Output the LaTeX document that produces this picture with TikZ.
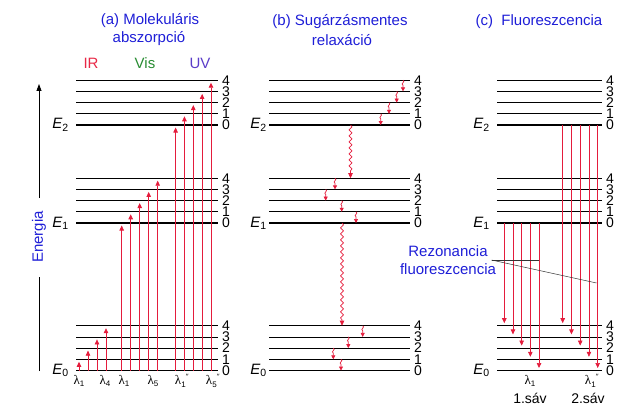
\documentclass[tikz,border=0pt]{standalone}
\usepackage{fontspec}
\setmainfont{Liberation Sans}
\newfontfamily\grk{Liberation Serif}
\usetikzlibrary{arrows.meta,decorations.pathmorphing}
\definecolor{arr}{RGB}{228,28,60}
\definecolor{ttl}{RGB}{30,30,215}
\definecolor{irc}{RGB}{232,40,70}
\definecolor{visc}{RGB}{40,140,50}
\definecolor{uvc}{RGB}{90,60,200}
\newcommand\lamlab[2]{{\grk λ}\raisebox{-2.5pt}{\fontsize{8}{8}\selectfont #1}#2}
\newcommand\dpr{\raisebox{5pt}{\fontsize{8}{8}\selectfont\grk ″}}
\begin{document}
\begin{tikzpicture}[x=1pt,y=-1pt,
  lev/.style={draw=black},
  num/.style={anchor=west,inner sep=0pt,font=\fontsize{14}{14}\selectfont},
  elab/.style={anchor=east,inner sep=0pt,font=\fontsize{15}{15}\selectfont},
  ttlf/.style={font=\fontsize{15}{17.5}\selectfont,text=ttl,inner sep=0pt},
  up/.style={draw=arr,line width=0.7pt,-{Triangle[length=5pt,width=4.5pt]},shorten >=2.5pt},
  dn/.style={draw=arr,line width=0.7pt,-{Triangle[length=5pt,width=4.5pt]},shorten >=2.5pt},
  lw/.style={draw=arr,line width=0.7pt,-{Triangle[length=5pt,width=4.5pt]},decorate,decoration={snake,amplitude=1.5pt,segment length=6pt,post length=5pt}},
  sw/.style={draw=arr,line width=0.7pt,-{Triangle[length=4pt,width=4pt]},to path={.. controls +(3,1.5) and +(-3,-1.5) .. ++(0,5) -- (\tikztotarget) \tikztonodes}},
  lam/.style={inner sep=0pt,font=\fontsize{13}{13}\selectfont},
  lbl/.style={inner sep=0pt,font=\fontsize{14}{14}\selectfont}
]
\useasboundingbox (0,0) rectangle (635,412);

% energy levels
\foreach \pn/\xl/\xr/\eg in {a/76/218/7, b/269/410/2, c/497/602/7}{
  \foreach \gn/\base in {0/370.5,1/223,2/125}{
    \foreach \lv in {0,...,4}{
      \pgfmathsetmacro\yy{\base-11.2*\lv}
      \pgfmathsetmacro\lwd{\lv==0 ? 1.3 : 0.8}
      \coordinate (\pn\gn\lv L) at (\xl,\yy);
      \coordinate (\pn\gn\lv R) at (\xr,\yy);
      \draw[lev,line width=\lwd pt] (\pn\gn\lv L) -- (\pn\gn\lv R);
      \node[num,xshift=4pt] (\pn\gn\lv n) at (\pn\gn\lv R) {\lv};
    }
    \node[elab,xshift=-\eg pt] (\pn\gn E) at (\pn\gn0L) {\textit{E}\textsubscript{\gn}};
  }
}

% energy axis
\coordinate (axb) at (39,371);
\coordinate (axm1) at (39,277);
\coordinate (axm2) at (39,198);
\coordinate (axt) at (39,84);
\node[ttlf,rotate=90] (en) at (39,237) {Energia};
\draw[line width=0.8pt] (axb) -- (axm1);
\draw[line width=0.8pt,-{Triangle[length=7pt,width=5pt]}] (axm2) -- (axt);

% titles
\node[ttlf] (ta1) at (150,21) {(a) Molekuláris};
\node[ttlf] (ta2) at (149,39) {abszorpció};
\node[ttlf,text=irc] (ir) at (91,63) {IR};
\node[ttlf,text=visc] (vis) at (145,63) {Vis};
\node[ttlf,text=uvc] (uv) at (200,63) {UV};
\node[ttlf] (tb1) at (340,22) {(b) Sugárzásmentes};
\node[ttlf] (tb2) at (342,40) {relaxáció};
\node[ttlf] (tc) at (539,22) {(c)\ \ Fluoreszcencia};

% panel (a) absorption arrows
\foreach \k in {1,...,4}{
  \pgfmathsetmacro\xx{79+9*(\k-1)}
  \draw[up] (\xx,0 |- a00L) -- (\xx,0 |- a0\k L);
}
\foreach \k in {0,...,4}{
  \pgfmathsetmacro\xx{121.7+9*\k}
  \draw[up] (\xx,0 |- a00L) -- (\xx,0 |- a1\k L);
}
\foreach \k in {0,...,4}{
  \pgfmathsetmacro\xx{175.6+8.85*\k}
  \draw[up] (\xx,0 |- a00L) -- (\xx,0 |- a2\k L);
}
\node[lam] (la1) at (79,381) {\lamlab{1}{}};
\node[lam] (la2) at (105,381) {\lamlab{4}{}};
\node[lam] (la3) at (124,381) {\lamlab{1}{}};
\node[lam] (la4) at (153,381) {\lamlab{5}{}};
\node[lam] (la5) at (182,381) {\lamlab{1}{\dpr}};
\node[lam] (la6) at (213,381) {\lamlab{5}{\dpr}};

% panel (b) radiationless relaxation
\draw[sw] (403,0 |- b24L) to (403,0 |- b23L);
\draw[sw] (396.7,0 |- b23L) to (396.7,0 |- b22L);
\draw[sw] (389,0 |- b22L) to (389,0 |- b21L);
\draw[sw] (380.7,0 |- b21L) to (380.7,0 |- b20L);
\draw[lw] (350.5,0 |- b20L) -- (350.5,0 |- b14L);
\draw[sw] (335,0 |- b14L) to (335,0 |- b13L);
\draw[sw] (325.7,0 |- b13L) to (325.7,0 |- b12L);
\draw[sw] (341.7,0 |- b12L) to (341.7,0 |- b11L);
\draw[sw] (356,0 |- b11L) to (356,0 |- b10L);
\draw[lw] (342,0 |- b10L) -- (342,0 |- b04L);
\draw[sw] (362.7,0 |- b04L) to (362.7,0 |- b03L);
\draw[sw] (348.3,0 |- b03L) to (348.3,0 |- b02L);
\draw[sw] (333.3,0 |- b02L) to (333.3,0 |- b01L);
\draw[sw] (341,0 |- b01L) to (341,0 |- b00L);

% panel (c) fluorescence
\foreach \k in {0,...,4}{
  \pgfmathsetmacro\xx{504.3+8.68*\k}
  \draw[dn] (\xx,0 |- c10L) -- (\xx,0 |- c0\the\numexpr4-\k\relax L);
}
\foreach \k in {0,...,4}{
  \pgfmathsetmacro\xx{562.7+8.75*\k}
  \draw[dn] (\xx,0 |- c20L) -- (\xx,0 |- c0\the\numexpr4-\k\relax L);
}
\node[lam] (lc1) at (530,381) {\lamlab{1}{}};
\node[lam] (lc2) at (592,381) {\lamlab{1}{\dpr}};
\node[lbl] (s1) at (530,398) {1.sáv};
\node[lbl] (s2) at (588,398) {2.sáv};

\node[ttlf,align=center] (rez) at (448,260) {Rezonancia\\fluoreszcencia};
\coordinate (rz) at (491.5,260);
\coordinate (rz1) at (538.5,260);
\coordinate (rz2) at (596.5,283);
\draw[line width=0.5pt,black!80] (rz) -- (rz1);
\draw[line width=0.5pt,black!80] (rz) -- (rz2);
\end{tikzpicture}
\end{document}
